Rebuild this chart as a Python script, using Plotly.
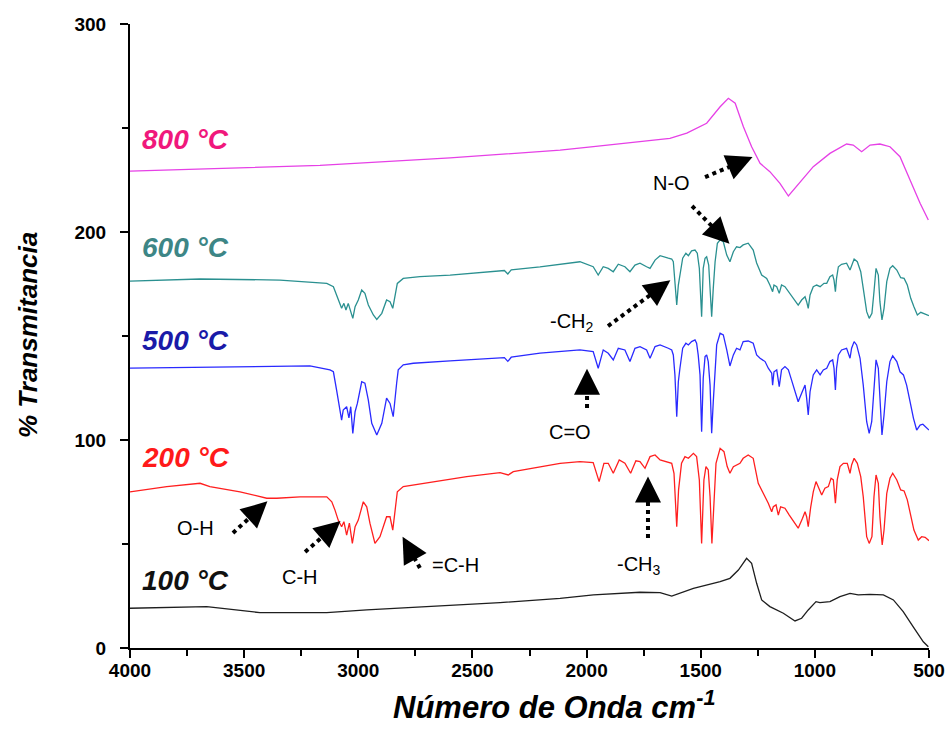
import math
import plotly.graph_objects as go

# ---- FTIR spectra: wavenumber (cm-1) and % transmittance (offset traces) ----
wn_100 = [4000, 3664, 3431, 3138, 2963, 2671, 2379, 2116, 1970, 1766, 1678, 1627, 1532, 1415,
          1372, 1335, 1299, 1277, 1255, 1233, 1197, 1138, 1087, 1058, 1029, 995, 978, 934, 890,
          846, 810, 759, 700, 656, 613, 569, 525, 503]
t_100 = [19.1, 19.9, 17.0, 17.0, 18.3, 19.9, 21.8, 23.9, 25.5, 26.8, 26.6, 25.0, 28.7, 31.9,
         33.5, 37.5, 43.1, 40.7, 31.1, 23.1, 19.9, 16.7, 13.0, 14.3, 18.3, 22.3, 21.8, 22.3, 24.7,
         26.3, 25.5, 25.8, 25.5, 23.1, 17.5, 10.2, 3.0, 0.6]

wn_200 = [4000, 3839, 3693, 3650, 3518, 3401, 3357, 3255, 3138, 3116, 3102, 3088, 3073, 3063,
          3051, 3039, 3026, 3014, 3000, 2978, 2963, 2949, 2927, 2905, 2876, 2861, 2849, 2839,
          2829, 2803, 2671, 2525, 2379, 2343, 2321, 2116, 2029, 1971, 1945, 1924, 1905, 1883,
          1857, 1832, 1807, 1784, 1766, 1744, 1722, 1700, 1678, 1649, 1627, 1617, 1605, 1597,
          1591, 1584, 1569, 1554, 1532, 1518, 1506, 1496, 1486, 1477, 1467, 1459, 1451, 1442,
          1433, 1415, 1398, 1384, 1372, 1357, 1340, 1328, 1314, 1292, 1270, 1248, 1226, 1204,
          1189, 1182, 1170, 1160, 1150, 1131, 1112, 1094, 1073, 1054, 1043, 1036, 1029, 1018,
          1007, 995, 985, 970, 956, 941, 929, 919, 910, 902, 890, 875, 858, 846, 839, 828, 814,
          799, 788, 773, 762, 750, 741, 732, 722, 715, 705, 697, 685, 671, 659, 641, 624, 609,
          595, 580, 566, 547, 532, 517, 500]
t_200 = [75.1, 77.6, 79.2, 77.6, 75.1, 72.0, 72.0, 72.7, 72.7, 70.3, 66.3, 61.5, 58.3, 60.7,
         54.3, 60.0, 50.3, 58.3, 61.5, 70.3, 67.9, 60.0, 50.3, 53.5, 63.1, 63.1, 56.7, 64.8,
         75.1, 77.6, 80.0, 82.4, 84.3, 83.2, 84.8, 88.8, 89.6, 89.1, 80.0, 88.8, 88.8, 84.0,
         90.4, 88.8, 84.0, 90.0, 89.6, 86.4, 92.0, 92.8, 90.4, 89.6, 88.8, 84.0, 58.3, 76.0,
         80.8, 88.8, 92.0, 91.2, 93.6, 92.0, 80.8, 50.3, 80.8, 87.2, 85.6, 72.7, 50.3, 69.6,
         88.8, 96.0, 94.4, 87.2, 84.0, 87.2, 88.0, 88.8, 91.2, 92.8, 91.2, 79.2, 74.4, 69.6,
         65.5, 67.9, 68.8, 63.9, 67.9, 67.2, 63.9, 60.7, 57.6, 62.4, 65.5, 63.1, 58.3, 67.9,
         75.1, 80.0, 77.6, 73.6, 76.8, 77.6, 81.6, 80.8, 69.6, 80.8, 87.2, 88.8, 88.8, 84.0,
         88.0, 91.2, 88.8, 82.4, 72.7, 53.5, 50.3, 53.5, 72.7, 83.2, 79.2, 63.1, 49.5, 56.7,
         74.4, 81.6, 84.0, 80.8, 76.0, 75.5, 71.2, 63.1, 56.7, 51.9, 53.5, 53.2, 51.6]

wn_500 = [4000, 3693, 3212, 3124, 3109, 3095, 3080, 3073, 3066, 3051, 3041, 3033, 3024, 3014,
          3004, 2985, 2971, 2956, 2941, 2919, 2897, 2876, 2861, 2847, 2832, 2825, 2803, 2759,
          2598, 2379, 2360, 2345, 2330, 2204, 2029, 1971, 1949, 1927, 1905, 1883, 1861, 1832,
          1810, 1788, 1766, 1737, 1722, 1700, 1678, 1642, 1627, 1620, 1613, 1605, 1598, 1591,
          1579, 1565, 1554, 1540, 1525, 1518, 1511, 1503, 1496, 1489, 1481, 1474, 1467, 1459,
          1452, 1445, 1437, 1430, 1415, 1401, 1386, 1372, 1357, 1343, 1328, 1314, 1292, 1270,
          1255, 1240, 1218, 1204, 1189, 1185, 1179, 1167, 1156, 1146, 1131, 1116, 1102, 1087,
          1073, 1058, 1043, 1036, 1029, 1021, 1007, 992, 977, 963, 948, 934, 922, 916, 910, 905,
          897, 883, 861, 846, 839, 828, 817, 802, 788, 773, 762, 751, 741, 732, 722, 715, 706,
          697, 685, 671, 659, 641, 627, 612, 598, 583, 568, 554, 539, 527, 510, 500]
t_500 = [134.6, 135.1, 135.6, 133.7, 132.8, 124.0, 113.6, 109.6, 114.4, 116.0, 110.6, 116.0,
         103.2, 113.6, 117.6, 128.0, 127.3, 119.2, 108.0, 102.4, 108.0, 120.1, 117.6, 111.2,
         127.3, 133.7, 136.1, 136.9, 138.0, 139.2, 139.6, 137.8, 139.8, 141.8, 143.3, 142.5,
         134.5, 143.3, 141.7, 138.5, 144.1, 143.3, 137.7, 144.1, 144.9, 143.3, 139.3, 144.9,
         145.7, 144.1, 143.3, 140.9, 131.3, 111.2, 128.0, 134.5, 144.1, 146.5, 145.7, 147.3,
         148.1, 146.5, 140.9, 131.3, 104.0, 129.7, 140.1, 140.9, 137.7, 126.4, 103.2, 118.4,
         134.5, 145.7, 151.3, 150.5, 143.3, 135.6, 140.9, 144.1, 143.3, 147.3, 147.6, 146.5,
         140.9, 139.3, 137.7, 134.5, 132.1, 126.4, 132.8, 133.7, 125.7, 133.7, 135.3, 133.7,
         128.8, 123.2, 118.4, 122.5, 126.4, 120.1, 112.0, 123.2, 131.3, 133.7, 131.3, 133.7,
         134.5, 137.7, 138.5, 134.5, 124.0, 134.5, 140.9, 143.3, 144.1, 139.3, 144.1, 147.3,
         145.7, 139.3, 126.4, 108.8, 103.2, 108.8, 126.4, 138.5, 134.5, 118.4, 102.4, 112.0,
         128.0, 137.7, 140.5, 137.7, 132.8, 131.3, 126.4, 118.4, 110.4, 104.8, 107.2, 107.6,
         105.6, 104.8]

wn_600 = [4000, 3693, 3343, 3168, 3138, 3109, 3095, 3080, 3073, 3063, 3054, 3044, 3033, 3024,
          3014, 3000, 2985, 2971, 2956, 2934, 2919, 2897, 2876, 2861, 2849, 2839, 2829, 2803,
          2730, 2598, 2379, 2360, 2345, 2330, 2204, 2029, 1971, 1949, 1927, 1905, 1883, 1861,
          1832, 1810, 1788, 1766, 1737, 1722, 1700, 1678, 1642, 1627, 1620, 1613, 1605, 1598,
          1591, 1579, 1565, 1554, 1540, 1525, 1515, 1506, 1496, 1489, 1481, 1474, 1465, 1459,
          1452, 1445, 1437, 1427, 1415, 1401, 1386, 1372, 1357, 1343, 1328, 1314, 1292, 1270,
          1255, 1233, 1211, 1197, 1185, 1179, 1167, 1156, 1146, 1131, 1116, 1094, 1073, 1058,
          1043, 1036, 1029, 1021, 1007, 992, 977, 960, 948, 934, 922, 916, 910, 905, 897, 883,
          861, 846, 839, 828, 814, 799, 788, 773, 762, 750, 741, 732, 722, 715, 706, 697, 685,
          671, 659, 641, 624, 609, 595, 580, 566, 551, 536, 525, 510, 500]
t_600 = [176.4, 177.4, 176.9, 175.6, 175.3, 173.7, 169.7, 165.7, 163.3, 165.7, 162.5, 165.7,
         161.7, 158.5, 164.1, 167.3, 172.1, 170.5, 164.9, 160.1, 158.0, 160.9, 167.3, 166.5,
         163.3, 168.9, 175.3, 177.7, 178.5, 179.3, 181.3, 181.5, 179.8, 181.8, 183.2, 185.7,
         183.3, 179.3, 183.3, 182.5, 180.9, 184.5, 183.3, 180.9, 184.1, 185.0, 183.3, 182.5,
         186.5, 188.6, 187.4, 187.0, 185.7, 177.7, 164.9, 174.5, 179.3, 187.4, 189.8, 188.6,
         190.9, 191.3, 189.8, 182.5, 159.3, 182.5, 187.4, 188.1, 184.1, 174.5, 159.3, 172.9,
         185.7, 194.6, 196.2, 195.3, 188.9, 185.7, 190.5, 192.9, 192.5, 193.8, 194.6, 191.3,
         185.1, 179.3, 177.7, 174.5, 171.3, 174.5, 173.7, 170.5, 174.5, 173.7, 171.3, 168.1,
         164.9, 167.3, 168.9, 166.5, 163.3, 169.7, 173.7, 174.5, 173.7, 175.3, 175.3, 178.5,
         179.3, 176.9, 171.3, 177.7, 183.3, 184.5, 185.0, 181.7, 184.1, 187.0, 185.7, 180.9,
         172.9, 161.7, 158.5, 160.9, 171.3, 182.5, 179.3, 166.5, 157.7, 163.3, 176.1, 182.5,
         183.8, 181.7, 178.0, 177.7, 174.5, 168.1, 164.1, 160.1, 161.4, 160.9, 160.1, 159.8]

wn_800 = [4000, 3168, 2598, 2116, 1970, 1824, 1635, 1561, 1474, 1415, 1379, 1349, 1313, 1277,
          1240, 1197, 1153, 1116, 1080, 1007, 934, 861, 832, 795, 758, 715, 671, 627, 583, 539,
          503]
t_800 = [229.3, 232.0, 235.6, 239.4, 241.0, 242.9, 245.0, 247.5, 252.3, 260.2, 264.3, 261.9,
         250.6, 241.0, 233.0, 229.0, 223.4, 217.3, 221.8, 231.4, 237.8, 242.3, 241.8, 238.6,
         241.8, 242.3, 241.0, 236.2, 225.0, 213.8, 205.8]

series = [
    ("100 °C", wn_100, t_100, "#1e1e1e", "#111111"),
    ("200 °C", wn_200, t_200, "#ff1f1f", "#ff1a1a"),
    ("500 °C", wn_500, t_500, "#2a2aff", "#1a1aa8"),
    ("600 °C", wn_600, t_600, "#2a9090", "#3d8686"),
    ("800 °C", wn_800, t_800, "#e640e6", "#f0187c"),
]
label_pos = {"100 °C": 32.5, "200 °C": 91.5, "500 °C": 148.0, "600 °C": 192.5, "800 °C": 244.5}

# functional-group callouts: label, label position, arrow tail, arrow tip
callouts = [
    ("O-H", (3711, 57.7), (3549, 55.3), (3398, 70.5)),
    ("C-H", (3255, 34.1), (3233, 46.2), (3078, 61.0)),
    ("=C-H", (2576, 40.0), (2730, 38.5), (2806, 53.5)),
    ("-CH<sub>3</sub>", (1772, 39.9), (1731, 52.9), (1731, 82.5)),
    ("C=O", (2073, 103.8), (1998, 115.4), (1998, 134.3)),
    ("-CH<sub>2</sub>", (2064, 156.7), (1906, 154.8), (1633, 176.8)),
    ("N-O", (1626, 223.6), (1481, 226.4), (1273, 236.0)),
    (None, None, (1538, 212.5), (1374, 194.3)),
]

W, H = 949, 746
M = dict(l=130, r=20, t=24, b=98)
XR = [4000, 500]
YR = [0, 300]
px_x = (W - M["l"] - M["r"]) / (XR[0] - XR[1])
px_y = (H - M["t"] - M["b"]) / (YR[1] - YR[0])

fig = go.Figure()
for name, wn, t, lc, _ in series:
    fig.add_trace(go.Scatter(x=wn, y=t, mode="lines", name=name,
                             line=dict(color=lc, width=1.3), hoverinfo="skip"))

annotations = []
shapes = []
for name, _, _, _, tc in series:
    annotations.append(dict(x=3958, y=label_pos[name], xref="x", yref="y", text=name,
                            showarrow=False, xanchor="left", yanchor="middle",
                            font=dict(family="Liberation Sans, Arial", size=28, color=tc,
                                      weight="bold", style="italic")))

HEAD = 18  # px behind the tip where the dotted shaft stops
for label, lpos, tail, tip in callouts:
    dxp = -(tip[0] - tail[0]) * px_x
    dyp = (tip[1] - tail[1]) * px_y
    n = math.hypot(dxp, dyp)
    ux, uy = dxp / n, dyp / n
    base = (tip[0] + ux * HEAD / px_x, tip[1] - uy * HEAD / px_y)
    shapes.append(dict(type="line", xref="x", yref="y", x0=tail[0], y0=tail[1],
                       x1=base[0], y1=base[1], line=dict(color="black", width=4, dash="dot")))
    annotations.append(dict(x=tip[0], y=tip[1], xref="x", yref="y", ax=base[0], ay=base[1],
                            axref="x", ayref="y", text="", showarrow=True, arrowhead=2,
                            arrowsize=2.6, arrowwidth=2, arrowcolor="black", standoff=0))
    if label:
        annotations.append(dict(x=lpos[0], y=lpos[1], xref="x", yref="y", text=label,
                                showarrow=False, xanchor="center", yanchor="middle",
                                font=dict(family="Liberation Sans, Arial", size=20,
                                          color="black")))

annotations.append(dict(x=(554 - M["l"]) / 799, y=-0.092, xref="paper", yref="paper",
                        xanchor="center", yanchor="middle",
                        text="Número de Onda cm<sup>-1</sup>", showarrow=False,
                        font=dict(family="Liberation Sans Narrow, Liberation Sans", size=31,
                                  color="black", weight="bold", style="italic")))
annotations.append(dict(x=-0.1277, y=0.5016, xref="paper", yref="paper", text="% Transmitancia",
                        xanchor="center", yanchor="middle", textangle=-90, showarrow=False,
                        font=dict(family="Liberation Sans, Arial", size=26, color="black",
                                  weight="bold", style="italic")))

axis_common = dict(showline=True, linecolor="black", linewidth=2, ticks="outside",
                   tickwidth=2, ticklen=8, tickcolor="black", showgrid=False, zeroline=False,
                   automargin=False, ticklabeloverflow="allow",
                   tickfont=dict(family="Liberation Sans, Arial", size=19, color="black",
                                 weight="bold"))
fig.update_layout(
    width=W, height=H, margin=M, showlegend=False, autosize=False,
    paper_bgcolor="white", plot_bgcolor="white",
    xaxis=dict(range=XR, tickvals=[4000, 3500, 3000, 2500, 2000, 1500, 1000, 500],
               ticklabelstandoff=-4,
               minor=dict(ticks="outside", ticklen=6, tickwidth=2, tickcolor="black",
                          tickvals=[3750, 3250, 2750, 2250, 1750, 1250, 750]),
               **axis_common),
    yaxis=dict(range=YR, tickvals=[0, 100, 200, 300], ticklabelstandoff=10,
               minor=dict(ticks="outside", ticklen=6, tickwidth=2, tickcolor="black",
                          tickvals=[50, 150, 250]),
               **axis_common),
    annotations=annotations, shapes=shapes,
)
fig.write_html("out.html", config={"responsive": False})
